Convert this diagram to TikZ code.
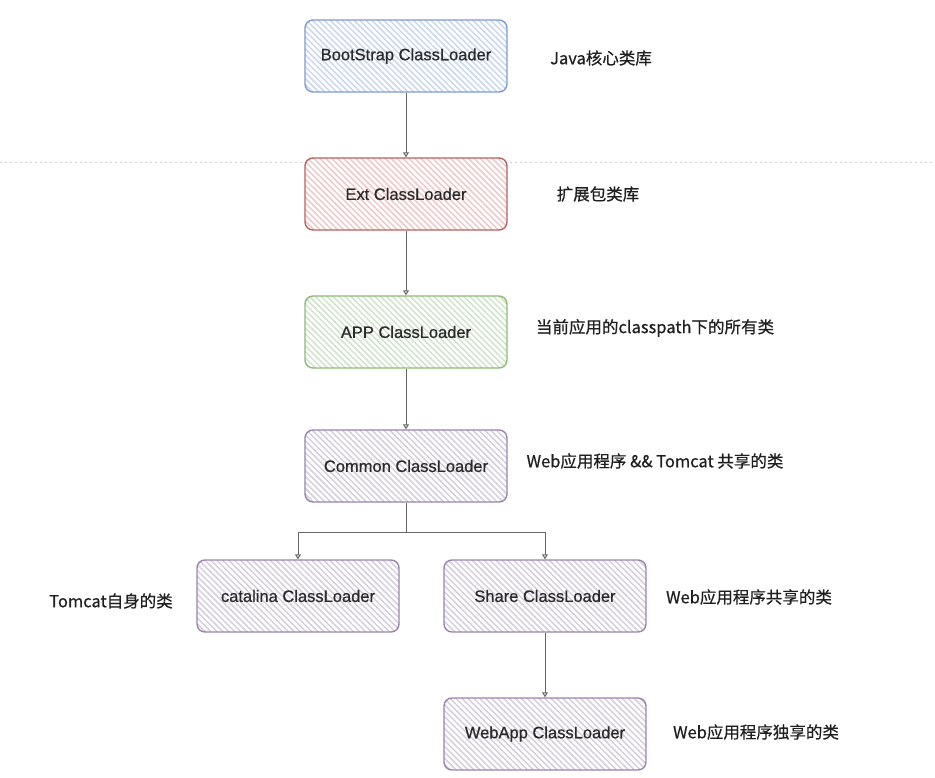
\documentclass[tikz,border=0pt]{standalone}
\usepackage{fontspec}
\setmainfont{Liberation Sans}
\newfontfamily\boxfont{Liberation Sans}[FakeBold=0.6]
\newfontfamily\cjk{Noto Sans CJK SC}[FakeBold=0.6]
\usetikzlibrary{patterns.meta,arrows.meta}
\definecolor{bluec}{HTML}{7E9CCB}
\definecolor{bluep}{HTML}{C9D8EE}
\definecolor{redc}{HTML}{B8615E}
\definecolor{redp}{HTML}{F0C8C8}
\definecolor{greenc}{HTML}{8DBA76}
\definecolor{greenp}{HTML}{CFE4CB}
\definecolor{purc}{HTML}{9A84AE}
\definecolor{purp}{HTML}{D6CEDC}
\definecolor{txt}{HTML}{2A2A2A}
\definecolor{linec}{HTML}{666666}
\tikzset{
  box/.style={rounded corners=8pt, minimum width=202pt, minimum height=72pt,
    line width=1.4pt, inner sep=0pt, text=txt,
    font=\boxfont\fontsize{16.5}{19}\selectfont},
  hatch/.style={preaction={fill=white},
    pattern={Lines[angle=-45,distance=4.2pt,line width=1.5pt]}, pattern color=#1},
  conn/.style={draw=linec, line width=1pt, -{Triangle[open,length=5pt,width=6pt]}},
  plain/.style={draw=linec, line width=1pt},
  lbl/.style={font=\cjk\fontsize{16.5}{19}\selectfont, text=black!88, inner sep=0pt},
  sep/.style={draw=gray!35, line width=1pt, dash pattern=on 2pt off 3pt}
}
\begin{document}
\begin{tikzpicture}[x=1pt,y=-1pt]
\useasboundingbox (0,0) rectangle (935,777);
\draw[sep] (0,162) -- (935,162);
\node[box, draw=bluec, hatch=bluep] (boot) at (406,56) {BootStrap ClassLoader};
\node[box, draw=redc, hatch=redp] (ext) at (406,194) {Ext ClassLoader};
\node[box, draw=greenc, hatch=greenp] (app) at (406,332) {APP ClassLoader};
\node[box, draw=purc, hatch=purp] (common) at (406,466) {Common ClassLoader};
\node[box, draw=purc, hatch=purp] (catalina) at (298,596) {catalina ClassLoader};
\node[box, draw=purc, hatch=purp] (share) at (545,596) {Share ClassLoader};
\node[box, draw=purc, hatch=purp] (webapp) at (545,734) {WebApp ClassLoader};
\coordinate (split) at (406,532);
\draw[conn] (boot) -- (ext);
\draw[conn] (ext) -- (app);
\draw[conn] (app) -- (common);
\draw[plain] (common) -- (split);
\draw[conn] (split) -| (catalina);
\draw[conn] (split) -| (share);
\draw[conn] (share) -- (webapp);
\node[lbl] (l1) at (601,58) {Java核心类库};
\node[lbl] (l2) at (598,194) {扩展包类库};
\node[lbl] (l3) at (655,328) {当前应用的classpath下的所有类};
\node[lbl] (l4) at (655,461) {Web应用程序 \&\& Tomcat 共享的类};
\node[lbl] (l5) at (111,601) {Tomcat自身的类};
\node[lbl] (l6) at (749,597) {Web应用程序共享的类};
\node[lbl] (l7) at (756,732) {Web应用程序独享的类};
\end{tikzpicture}
\end{document}
